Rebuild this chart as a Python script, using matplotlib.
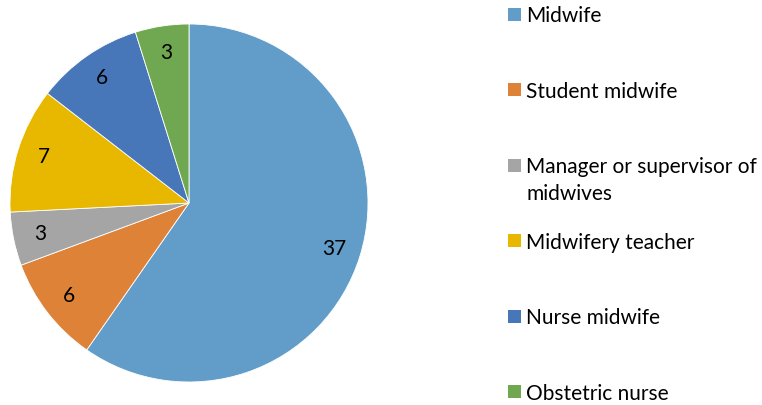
import matplotlib.pyplot as plt
from matplotlib.patches import Rectangle

plt.rcParams['font.family'] = ['Lato', 'DejaVu Sans']

# Данні з діаграми
roles = ['Midwife', 'Student midwife', 'Manager or supervisor of\nmidwives',
         'Midwifery teacher', 'Nurse midwife', 'Obstetric nurse']
counts = [37, 6, 3, 7, 6, 3]
colors = ['#619DC8', '#DE8238', '#A5A5A5', '#E8B800', '#4877B9', '#70A851']

W, H = 762, 405
fig = plt.figure(figsize=(W / 100, H / 100), dpi=100)

# Пиріг: центр (189, 203), радіус 179 px
cx, cy, r = 189, 203, 179
ax = fig.add_axes([(cx - r) / W, (H - cy - r) / H, 2 * r / W, 2 * r / H])
ax.pie(counts, colors=colors, startangle=90, counterclock=False,
       autopct=lambda p: '{:.0f}'.format(p * sum(counts) / 100),
       pctdistance=0.85, textprops={'fontsize': 15, 'color': 'black'},
       wedgeprops={'edgecolor': 'white', 'linewidth': 0.6})
ax.set_xlim(-1, 1)
ax.set_ylim(-1, 1)
ax.set_aspect('equal')

# Легенда вручну, щоб рядки йшли рівномірно
for i, (lab, col) in enumerate(zip(roles, colors)):
    yc = 14.5 + i * 75.4
    fig.patches.append(Rectangle((508 / W, 1 - (yc + 6.5) / H), 13 / W, 13 / H,
                                 transform=fig.transFigure, facecolor=col,
                                 edgecolor='none'))
    fig.text(526 / W, 1 - (yc - 8) / H, lab, fontsize=15, va='top',
             ha='left', linespacing=1.4)

fig.savefig('out.png', dpi=100)
